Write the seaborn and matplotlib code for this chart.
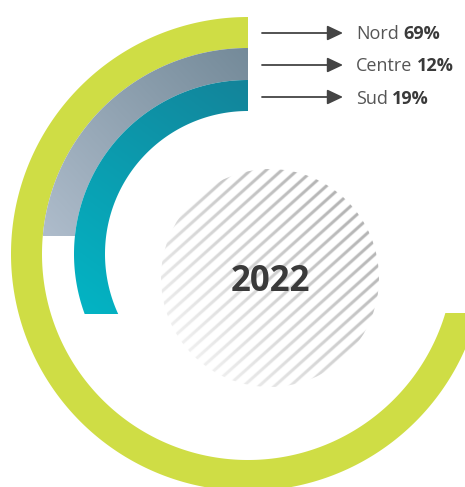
import numpy as np
import pandas as pd
import matplotlib
matplotlib.use("Agg")
import matplotlib.pyplot as plt
import seaborn as sns
from matplotlib.patches import Polygon, Circle

# ---- data -------------------------------------------------------------
regions = ["Nord", "Centre", "Sud"]
shares = [69, 12, 19]
center_label = "2022"

df = pd.DataFrame({"region": regions, "share": shares})

# ---- style -------------------------------------------------------------
sns.set_theme(style="white")
plt.rcParams["font.family"] = ["Open Sans", "DejaVu Sans"]

W, H = 465, 487
fig = plt.figure(figsize=(W / 100, H / 100), dpi=100)
ax = fig.add_axes([0, 0, 1, 1])
ax.axis("off")


def py(y):
    return H - y


cx, cy = 248, py(254)
ring_radii = {"Nord": (206, 237), "Centre": (174, 206), "Sud": (143, 174)}
ring_cuts = {"Nord": ("right", -59), "Centre": ("left", 18), "Sud": ("left", -60)}
ring_fill = {
    "Nord": ("#cfdd45", "#cfdd45", None, None),
    "Centre": ("#aebccb", "#748a99", (45, py(236)), (250, py(50))),
    "Sud": ("#03b4c4", "#13849a", (85, py(314)), (250, py(85))),
}


def end_angle(r, side, c):
    a = np.degrees(np.arcsin(c / r))
    return 360 + a if side == "right" else 180 - a


def arc_poly(rin, rout, side, c):
    t_out = np.radians(np.linspace(90, end_angle(rout, side, c), 400))
    t_in = np.radians(np.linspace(end_angle(rin, side, c), 90, 400))
    xs = np.r_[cx + rout * np.cos(t_out), cx + rin * np.cos(t_in)]
    ys = np.r_[cy + rout * np.sin(t_out), cy + rin * np.sin(t_in)]
    return np.column_stack([xs, ys])


def gradient_fill(xy, c0, c1, p0, p1, z=2):
    x0, y0 = xy.min(0)
    x1, y1 = xy.max(0)
    nx, ny = int((x1 - x0) * 3) + 2, int((y1 - y0) * 3) + 2
    X, Y = np.meshgrid(np.linspace(x0, x1, nx), np.linspace(y0, y1, ny))
    dx, dy = p1[0] - p0[0], p1[1] - p0[1]
    t = ((X - p0[0]) * dx + (Y - p0[1]) * dy) / (dx * dx + dy * dy)
    t = np.clip(t, 0, 1)[..., None]
    a = np.array(matplotlib.colors.to_rgb(c0))
    b = np.array(matplotlib.colors.to_rgb(c1))
    rgb = a + (b - a) * t
    im = ax.imshow(rgb, extent=(x0, x1, y0, y1), origin="lower",
                   interpolation="bilinear", aspect="auto", zorder=z)
    patch = Polygon(xy, closed=True, transform=ax.transData,
                    facecolor="none", edgecolor="none")
    ax.add_patch(patch)
    im.set_clip_path(patch)


for _, row in df.iterrows():
    name = row["region"]
    rin, rout = ring_radii[name]
    side, c = ring_cuts[name]
    xy = arc_poly(rin, rout, side, c)
    c0, c1, p0, p1 = ring_fill[name]
    if p0 is None:
        ax.add_patch(Polygon(xy, closed=True, facecolor=c0, edgecolor="none", zorder=2))
    else:
        gradient_fill(xy, c0, c1, p0, p1)

# ---- hatched centre disc ------------------------------------------------
hx, hy, hr = 270, py(278), 109
n = int(hr * 2 * 3)
g = np.linspace(-hr, hr, n)
U, V = np.meshgrid(g, g)
ang = np.radians(42)
s = U * np.sin(ang) - V * np.cos(ang)
tpar = (U * np.cos(ang) + V * np.sin(ang)) / hr
period, width = 10.4, 3.0
frac = np.mod(s, period)
dist = np.minimum(frac, period - frac)
alpha = np.clip(width / 2 + 0.5 - dist, 0, 1)
gray = (240 - (tpar + 1) / 2 * (240 - 178)) / 255
rgba = np.zeros((n, n, 4))
rgba[..., 0] = gray
rgba[..., 1] = gray
rgba[..., 2] = gray
rgba[..., 3] = alpha
im = ax.imshow(rgba, extent=(hx - hr, hx + hr, hy - hr, hy + hr), origin="lower",
               interpolation="bilinear", aspect="auto", zorder=1)
disc = Circle((hx, hy), hr, transform=ax.transData, facecolor="none", edgecolor="none")
ax.add_patch(disc)
im.set_clip_path(disc)

ax.text(270, py(282), center_label, ha="center", va="center", fontsize=25,
        fontweight="bold", color="#3a3a3a", zorder=5)

ax.set_xlim(0, W)
ax.set_ylim(0, H)

# ---- labels with arrows --------------------------------------------------
label_base = [39, 71, 104]
arrow_y = [33, 65, 97]
fig.canvas.draw()
renderer = fig.canvas.get_renderer()
for name, val, yb, ya in zip(regions, shares, label_base, arrow_y):
    ax.annotate("", xy=(343, py(ya)), xytext=(262, py(ya)),
                arrowprops=dict(arrowstyle="-|>,head_length=0.95,head_width=0.45",
                                color="#444444", lw=1.3, shrinkA=0, shrinkB=0,
                                mutation_scale=10))
    t1 = ax.text(356, py(yb), name, ha="left", va="baseline", fontsize=13,
                 color="#555555")
    bb = t1.get_window_extent(renderer).transformed(ax.transData.inverted())
    ax.text(bb.x1 + 4.5, py(yb), f"{val}%", ha="left", va="baseline", fontsize=13,
            fontweight="bold", color="#3a3a3a")

fig.savefig("out.png", dpi=100)
